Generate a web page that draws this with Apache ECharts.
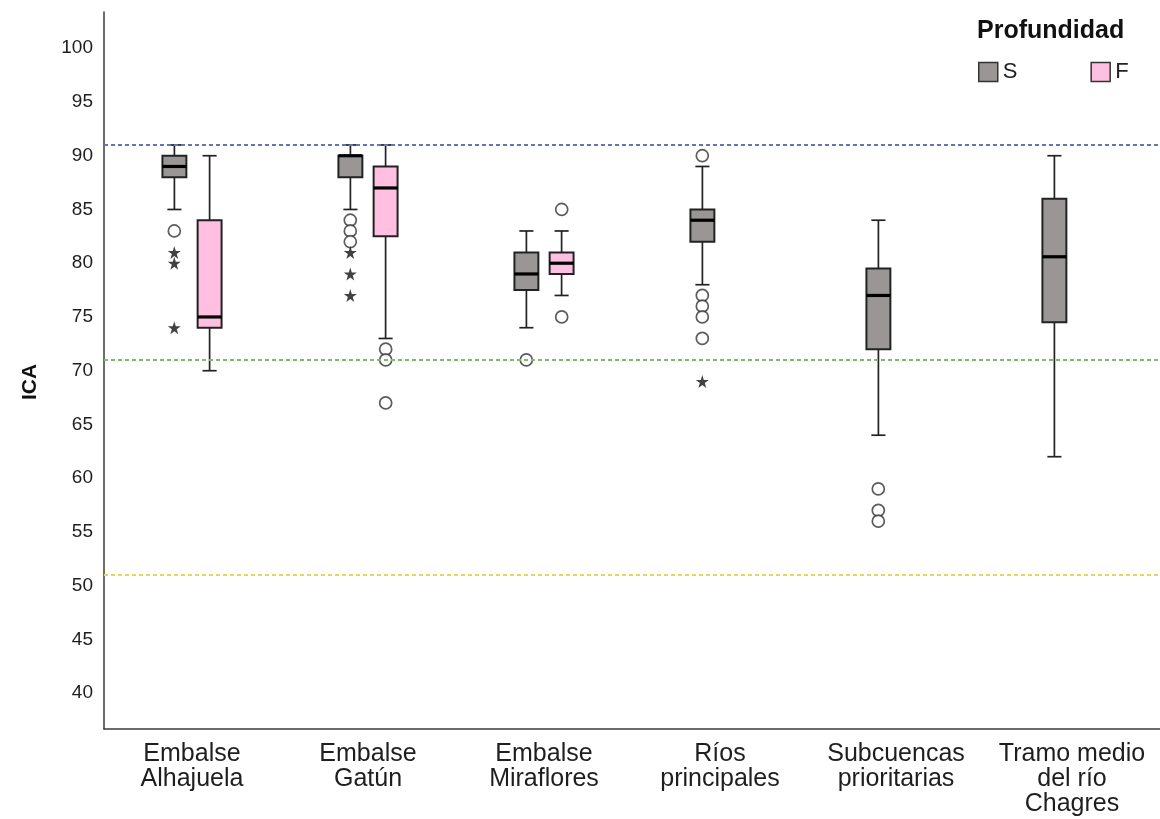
<!DOCTYPE html>
<html>
<head>
<meta charset="utf-8">
<script src="https://cdn.jsdelivr.net/npm/echarts@6/dist/echarts.min.js"></script>
<style>html,body{margin:0;padding:0;background:#fff}#c{width:1160px;height:819px}</style>
</head>
<body>
<div id="c"></div>
<script>
const categories = ['Embalse\nAlhajuela','Embalse\nGatún','Embalse\nMiraflores','Ríos\nprincipales','Subcuencas\nprioritarias','Tramo medio\ndel río\nChagres'];
const yTicks = [40,45,50,55,60,65,70,75,80,85,90,95,100];
// [min, Q1, median, Q3, max]
const boxS = [[85,88,89,90,91],[85,88,90,90,91],[74,77.5,79,81,83],[78,82,84,85,89],[64,72,77,79.5,84],[62,74.5,80.6,86,90]];
const boxF = [[70,74,75,84,90],[73,82.5,87,89,91],[77,79,80,81,83],null,null,null];
const outCircS = [[0,83],[1,84],[1,83],[1,82],[2,71],[3,90],[3,77],[3,76],[3,75],[3,73],[4,59],[4,57],[4,56]];
const outStarS = [[0,81],[0,80],[0,74],[1,81],[1,79],[1,77],[3,69]];
const outCircF = [[1,72],[1,71],[1,67],[2,85],[2,75]];
const outStarF = [];
const refLines = [91,71,51];

const FONT = 'Liberation Sans, Arial, sans-serif';
const colS = '#9a9696', colF = '#ffbfe0', edge = '#222222';
const starPath = 'path://M50,0 L61,35 L98,35 L68,57 L79,91 L50,70 L21,91 L32,57 L2,35 L39,35 Z';

function toData(arr){
  const out=[];
  arr.forEach((b,i)=>{ if(b) out.push([i].concat(b)); });
  return out;
}
function makeRender(offFrac){
  return function(params, api){
    const xi = api.value(0);
    const band = api.size([1,0])[0];
    const off = band*offFrac;
    const bw = band*0.136, cap = band*0.08;
    const pt = k => { const c = api.coord([xi, api.value(k)]); return [c[0]+off, c[1]]; };
    const pMin=pt(1), pQ1=pt(2), pMed=pt(3), pQ3=pt(4), pMax=pt(5);
    const cx = pMin[0];
    const ls = {stroke:edge, lineWidth:1.7};
    return {type:'group', children:[
      {type:'line', shape:{x1:cx,y1:pMax[1],x2:cx,y2:pQ3[1]}, style:ls},
      {type:'line', shape:{x1:cx,y1:pQ1[1],x2:cx,y2:pMin[1]}, style:ls},
      {type:'line', shape:{x1:cx-cap/2,y1:pMax[1],x2:cx+cap/2,y2:pMax[1]}, style:ls},
      {type:'line', shape:{x1:cx-cap/2,y1:pMin[1],x2:cx+cap/2,y2:pMin[1]}, style:ls},
      {type:'rect', shape:{x:cx-bw/2,y:pQ3[1],width:bw,height:pQ1[1]-pQ3[1]}, style:{fill:api.visual('color'), stroke:edge, lineWidth:2}},
      {type:'line', shape:{x1:cx-bw/2,y1:pMed[1],x2:cx+bw/2,y2:pMed[1]}, style:{stroke:'#000', lineWidth:3.2}}
    ]};
  };
}

const chart = echarts.init(document.getElementById('c'), null, {renderer:'canvas'});
const circleStyle = {color:'#ffffff', borderColor:'#333', borderWidth:1.7};
chart.setOption({
  animation:false,
  textStyle:{fontFamily:FONT},
  title:{text:'Profundidad', left:972, top:14, textStyle:{fontFamily:FONT, fontSize:25, fontWeight:'bold', color:'#111'}},
  legend:{
    left:973, top:56, itemWidth:19, itemHeight:19, itemGap:73, icon:'rect',
    textStyle:{fontFamily:FONT, fontSize:22, color:'#222'},
    data:[
      {name:'S', itemStyle:{color:colS, borderColor:'#333', borderWidth:1.5}},
      {name:'F', itemStyle:{color:colF, borderColor:'#333', borderWidth:1.5}}
    ]
  },
  grid:{left:104, right:-6.5, top:12, bottom:90},
  xAxis:{
    type:'category', data:categories,
    axisLine:{lineStyle:{color:'#3c3c3c', width:1.5}},
    axisTick:{show:false},
    axisLabel:{fontFamily:FONT, fontSize:25, lineHeight:25, color:'#1e1e1e', margin:13, interval:0}
  },
  yAxis:{
    type:'value', min:36.67, max:103.37,
    axisLine:{show:true, lineStyle:{color:'#3c3c3c', width:1.5}},
    axisTick:{show:false},
    splitLine:{show:false},
    axisLabel:{customValues:yTicks, fontFamily:FONT, fontSize:19, color:'#1e1e1e', margin:11, padding:[8,0,0,0]}
  },
  graphic:[{type:'text', x:30, y:382, rotation:Math.PI/2,
    style:{text:'ICA', font:'bold 21px '+FONT, fill:'#111', textAlign:'center', textVerticalAlign:'middle'}}],
  series:[
    {name:'S', type:'custom', renderItem:makeRender(-0.1), itemStyle:{color:colS}, encode:{x:0,y:[1,2,3,4,5]}, data:toData(boxS), z:3},
    {name:'F', type:'custom', renderItem:makeRender(0.1), itemStyle:{color:colF}, encode:{x:0,y:[1,2,3,4,5]}, data:toData(boxF), z:3},
    {name:'S atípicos', type:'scatter', symbol:'circle', symbolSize:12, symbolOffset:[-17.7,0], itemStyle:circleStyle, data:outCircS, z:4,
      markLine:{silent:true, symbol:'none', label:{show:false}, lineStyle:{type:[4,3], width:2},
        data:[
          {yAxis:refLines[0], lineStyle:{color:'#6474b4'}},
          {yAxis:refLines[1], lineStyle:{color:'#7cbc6c'}},
          {yAxis:refLines[2], lineStyle:{color:'#e8d45c'}}
        ]}},
    {name:'S extremos', type:'scatter', symbol:starPath, symbolSize:13, symbolOffset:[-17.7,0], itemStyle:{color:'#111'}, data:outStarS, z:4},
    {name:'F atípicos', type:'scatter', symbol:'circle', symbolSize:12, symbolOffset:[17.7,0], itemStyle:circleStyle, data:outCircF, z:4},
    {name:'F extremos', type:'scatter', symbol:starPath, symbolSize:13, symbolOffset:[17.7,0], itemStyle:{color:'#111'}, data:outStarF, z:4}
  ]
});
</script>
</body>
</html>
